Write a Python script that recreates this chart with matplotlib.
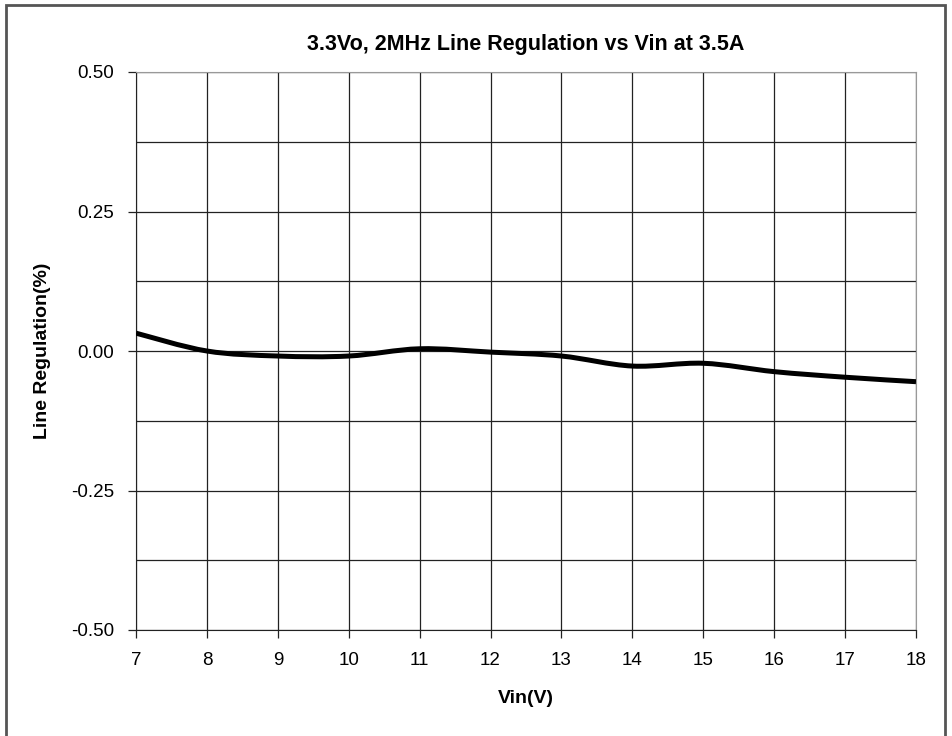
import numpy as np
import matplotlib
matplotlib.use("Agg")
import matplotlib.pyplot as plt
from matplotlib.path import Path
from matplotlib.patches import PathPatch, Rectangle

# Données
vin = [7, 8, 9, 10, 11, 12, 13, 14, 15, 16, 17, 18]
regulation = [0.032, 0.0, -0.009, -0.009, 0.004, -0.002, -0.009,
              -0.027, -0.022, -0.037, -0.047, -0.055]
yticks = [-0.50, -0.25, 0.00, 0.25, 0.50]

plt.rcParams["font.family"] = ["Liberation Sans", "DejaVu Sans"]


def chemin_lisse(x, y):
    """Courbe de Bézier façon Excel (Catmull-Rom) passant par les points."""
    x = np.asarray(x, float)
    y = np.asarray(y, float)
    n = len(x)
    verts = [(x[0], y[0])]
    codes = [Path.MOVETO]
    for i in range(n - 1):
        x0, y0 = (x[i - 1], y[i - 1]) if i > 0 else (x[i], y[i])
        x3, y3 = (x[i + 2], y[i + 2]) if i + 2 < n else (x[i + 1], y[i + 1])
        c1 = (x[i] + (x[i + 1] - x0) / 6, y[i] + (y[i + 1] - y0) / 6)
        c2 = (x[i + 1] - (x3 - x[i]) / 6, y[i + 1] - (y3 - y[i]) / 6)
        verts += [c1, c2, (x[i + 1], y[i + 1])]
        codes += [Path.CURVE4] * 3
    return Path(verts, codes)


fig = plt.figure(figsize=(9.53, 7.36), dpi=100)
ax = fig.add_axes([136 / 953, 1 - 630 / 736, 780 / 953, 558 / 736])

ax.add_patch(PathPatch(chemin_lisse(vin, regulation), fill=False,
                       lw=3.6, color="black", capstyle="butt", zorder=3))

ax.set_xlim(7, 18)
ax.set_ylim(-0.5, 0.5)
ax.set_xticks(vin)
ax.set_yticks(yticks)
ax.set_yticks(np.arange(-0.375, 0.5, 0.25), minor=True)
ax.set_yticklabels([f"{v:.2f}" for v in yticks])
ax.grid(True, which="both", color="#222222", lw=0.9)
ax.tick_params(axis="y", which="minor", length=0)
ax.tick_params(axis="both", which="major", direction="out", length=6,
               width=0.9, color="#222222", labelsize=13.5)
ax.tick_params(axis="y", pad=9.5)
ax.tick_params(axis="x", pad=10)

for cote in ["top", "right"]:
    ax.spines[cote].set_color("#999999")
for cote in ["left", "bottom"]:
    ax.spines[cote].set_color("#222222")

ax.set_title("3.3Vo, 2MHz Line Regulation vs Vin at 3.5A",
             fontsize=15.5, fontweight="bold", pad=16)
ax.set_xlabel("Vin(V)", fontsize=14, fontweight="bold", labelpad=15)
ax.set_ylabel("Line Regulation(%)", fontsize=14, fontweight="bold",
              labelpad=15)

# cadre extérieur du graphique
fig.patches.append(Rectangle((6 / 953, -0.05), 939 / 953, 1 - 5 / 736 + 0.05,
                             transform=fig.transFigure, fill=False,
                             edgecolor="#555555", lw=2))

fig.savefig("out.png", dpi=100)
